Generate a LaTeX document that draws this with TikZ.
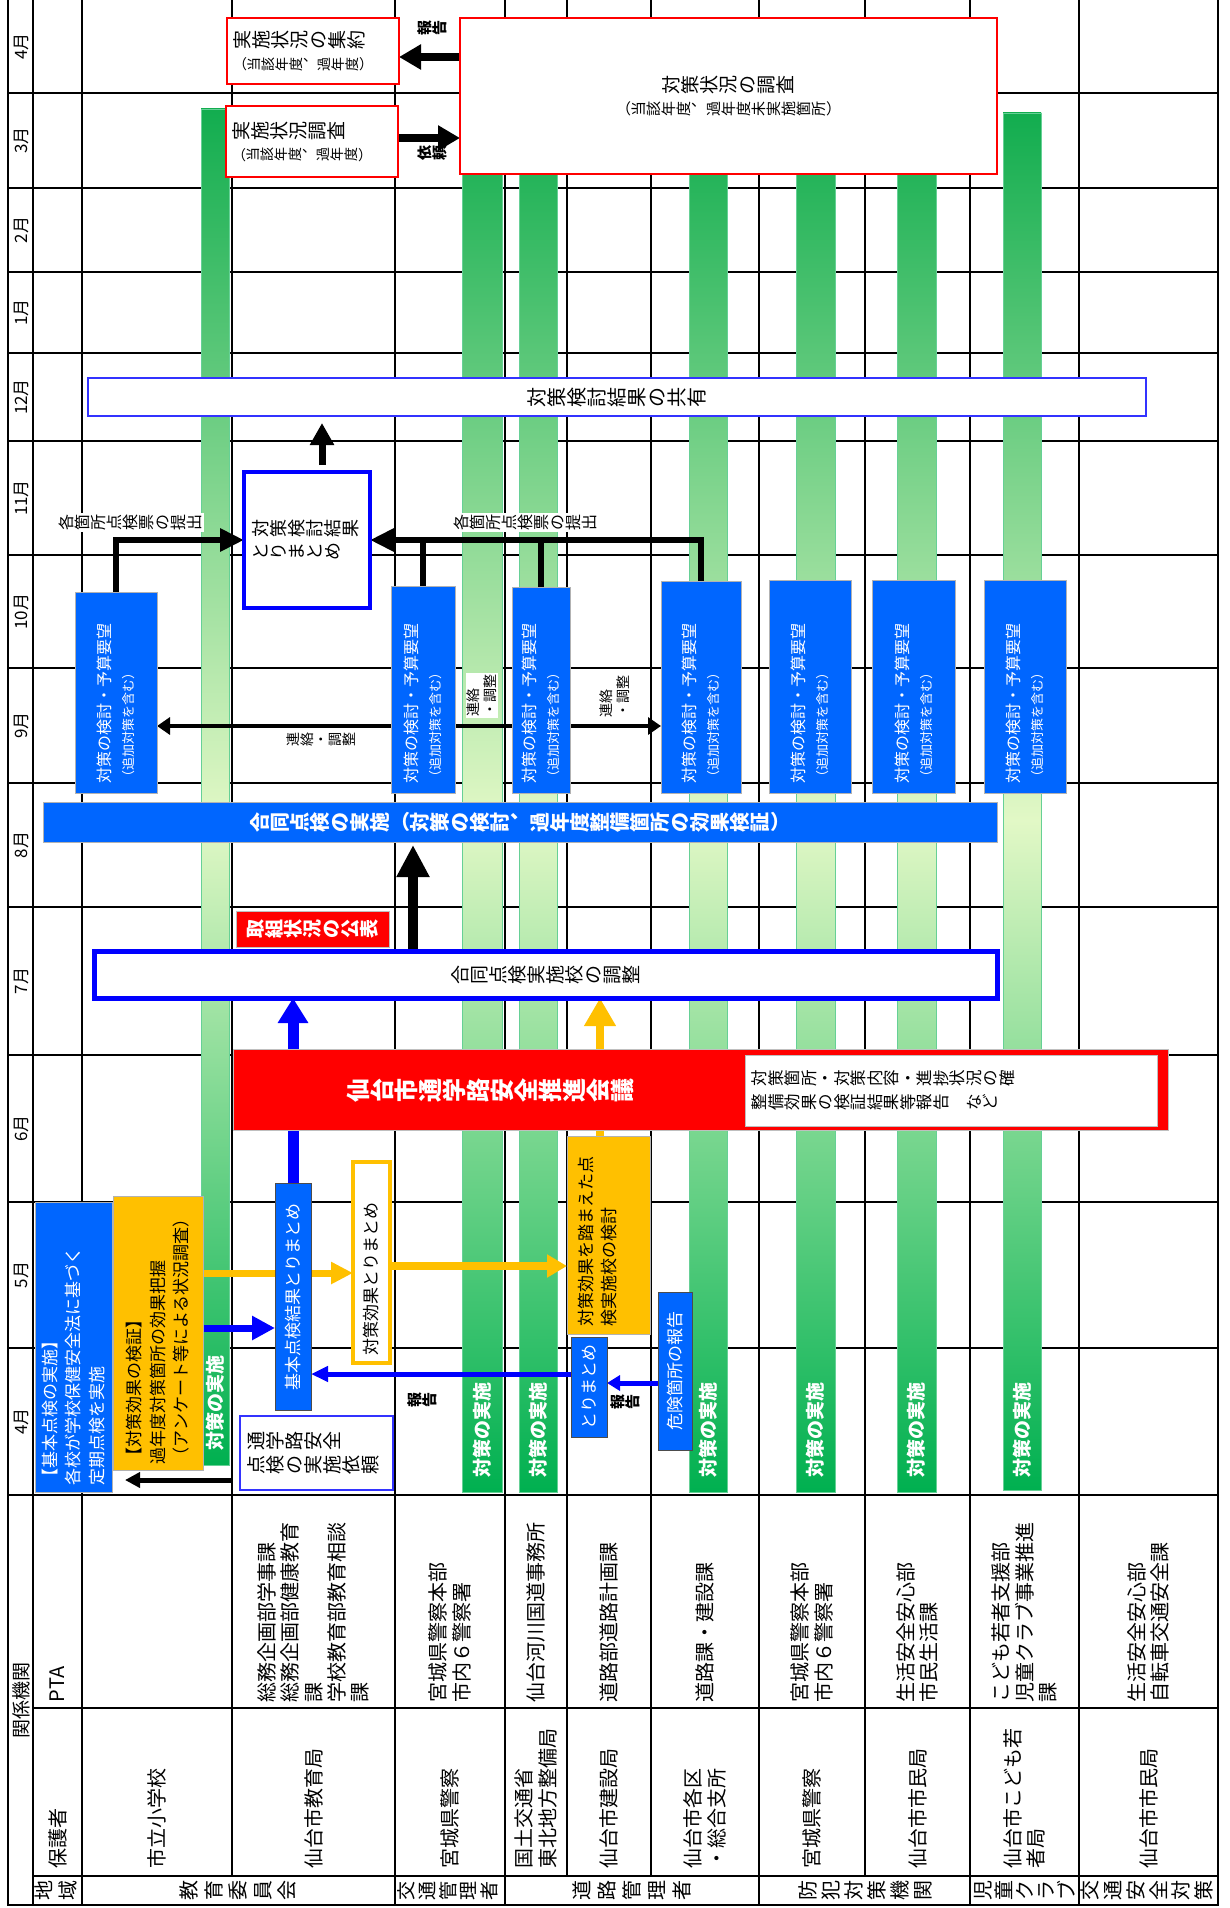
\documentclass[tikz,border=0pt]{standalone}
\usepackage{fontspec}
\setmainfont{Noto Sans CJK JP}
\usetikzlibrary{arrows.meta}
\definecolor{cblue}{HTML}{0066FF}
\definecolor{pblue}{HTML}{0000FF}
\definecolor{lblue}{HTML}{3333FF}
\definecolor{corange}{HTML}{FFC000}
\definecolor{cred}{HTML}{FF0000}
\definecolor{gdark}{HTML}{12AD4F}
\definecolor{gbot}{HTML}{00B050}
\definecolor{glight}{HTML}{E2F8C6}
\makeatletter
\newlength\tategap
\def\tate@end{\tate@end}
\newcommand\tate[1]{\tate@loop#1\tate@end\hspace*{-\tategap}}
\def\tate@loop#1{\ifx#1\tate@end\else\tate@char{#1}\expandafter\tate@loop\fi}
\def\tate@em#1{\raisebox{0pt}[0.88em][0.12em]{\makebox[1em][c]{#1}}}
\def\tate@char#1{\ifx#1（\tate@em{#1}\else\ifx#1）\tate@em{#1}\else\ifx#1、\tate@em{\raisebox{0.55em}{#1}}\else\rotatebox[origin=c]{90}{\tate@em{#1}}\fi\fi\fi\hspace*{\tategap}}
\makeatother
\pgfdeclarelayer{bg}\pgfdeclarelayer{arr}\pgfsetlayers{bg,arr,main}
\newcommand\RB[7][]{\node[rb,#1,minimum width={#6-#4},minimum height={#5-#3}] (#2) at ({(#3+#5)/2},{(#4+#6)/2}) {#7};}
\newcommand\UB[7][]{\node[ub,#1,minimum width={#5-#3},minimum height={#6-#4}] (#2) at ({(#3+#5)/2},{(#4+#6)/2}) {#7};}
\newcommand\gbar[6]{%
 \shade[top color=gdark, bottom color=glight] (#2,#3) rectangle (#4,821);
 \shade[top color=glight, bottom color=gbot] (#2,820) rectangle (#4,#5);
 \draw[barline] (#2,#3) rectangle (#4,#5);
 \node[bartext] (#1) at ({(#2+#4)/2},#6) {対策の実施};}
\tikzset{
 rb/.style={rotate=90, inner sep=0pt, outer sep=0pt},
 ub/.style={inner sep=0pt, outer sep=0pt},
 tbox/.style={fill=white},
 bluebox/.style={fill=cblue, draw=gray!60, line width=0.8pt, text=white},
 orangebox/.style={fill=corange, draw=gray!60, line width=0.8pt},
 kbox/.style={bluebox, align=left, font=\fontsize{16}{23}\selectfont},
 org/.style={align=left, font=\fontsize{20}{23.4}\selectfont},
 month/.style={rotate=90, inner sep=0pt, font=\fontsize{17}{17}\selectfont},
 cat/.style={inner sep=0pt, font=\fontsize{20}{20}\selectfont},
 grid/.style={line width=1.8pt, line cap=rect},
 barline/.style={draw=gbot!60, line width=0.8pt},
 bartext/.style={rotate=90, inner sep=0pt, text=white, font=\fontsize{19}{19}\selectfont\bfseries},
 lab/.style={inner sep=1.5pt, fill=white, font=\fontsize{16}{18}\selectfont},
 arr/.style n args={4}{draw=#1, line width=#2, -{Triangle[length=#3,width=#4]}},
}
\begin{document}
\begin{tikzpicture}[x=1pt, y=-1pt, font=\fontsize{20}{23.5}\selectfont, line join=miter]
\useasboundingbox (0,0) rectangle (1229,1908);
\begin{pgfonlayer}{bg}
\fill[white] (0,0) rectangle (1229,1908);
\foreach \x in {8,33,82,395,505,759,970,1079,1218} \draw[grid] (\x,0) -- (\x,1905);
\foreach \x in {232,567,651,865} \draw[grid] (\x,0) -- (\x,1876);
\foreach \y in {93,188,272,353,441,555,668,783,907,1055,1202,1348,1495,1905} \draw[grid] (8,\y) -- (1218,\y);
\draw[grid] (33,1708) -- (1218,1708);
\draw[grid] (33,1876) -- (1218,1876);
\gbar{ba}{201}{109}{229}{1465}{1403}
\gbar{bb}{462}{112}{502}{1492}{1430}
\gbar{bc}{519}{112}{557}{1492}{1430}
\gbar{bd}{689}{112}{727}{1492}{1430}
\gbar{be}{796}{112}{835}{1492}{1430}
\gbar{bf}{897}{112}{936}{1492}{1430}
\gbar{bgg}{1003}{113}{1041}{1490}{1430}
\end{pgfonlayer}

% header column
\foreach \y/\m [count=\i] in {46.5/4月,140.5/3月,230/2月,312.5/1月,397/12月,498/11月,611.5/10月,725.5/9月,845/8月,981/7月,1128.5/6月,1275/5月,1421.5/4月}
  \node[month] (m\i) at (21,\y) {\m};
\node[month, font=\fontsize{19}{19}\selectfont] (kankei) at (21,1700) {関係機関};

% organisation cells
\RB[org, text width=201pt]{o1}{33}{1495}{82}{1708}{PTA}
\RB[org, text width=201pt]{o2}{232}{1495}{395}{1708}{総務企画部学事課\\総務企画部健康教育\\課\\学校教育部教育相談\\課}
\RB[org, text width=201pt]{o3}{395}{1495}{505}{1708}{宮城県警察本部\\市内６警察署}
\RB[org, text width=201pt]{o4}{505}{1495}{567}{1708}{仙台河川国道事務所}
\RB[org, text width=201pt]{o5}{567}{1495}{651}{1708}{道路部道路計画課}
\RB[org, text width=201pt]{o6}{651}{1495}{759}{1708}{道路課・建設課}
\RB[org, text width=201pt]{o7}{759}{1495}{865}{1708}{宮城県警察本部\\市内６警察署}
\RB[org, text width=201pt]{o8}{865}{1495}{970}{1708}{生活安全安心部\\市民生活課}
\RB[org, text width=201pt]{o9}{970}{1495}{1079}{1708}{こども若者支援部\\児童クラブ事業推進\\課}
\RB[org, text width=201pt]{o10}{1079}{1495}{1218}{1708}{生活安全安心部\\自転車交通安全課}
\RB[org, text width=152pt]{n1}{33}{1708}{82}{1876}{保護者}
\RB[org, text width=152pt]{n2}{82}{1708}{232}{1876}{市立小学校}
\RB[org, text width=152pt]{n3}{232}{1708}{395}{1876}{仙台市教育局}
\RB[org, text width=152pt]{n4}{395}{1708}{505}{1876}{宮城県警察}
\RB[org, text width=152pt]{n5}{505}{1708}{567}{1876}{国土交通省\\東北地方整備局}
\RB[org, text width=152pt]{n6}{567}{1708}{651}{1876}{仙台市建設局}
\RB[org, text width=152pt]{n7}{651}{1708}{759}{1876}{仙台市各区\\・総合支所}
\RB[org, text width=152pt]{n8}{759}{1708}{865}{1876}{宮城県警察}
\RB[org, text width=152pt]{n9}{865}{1708}{970}{1876}{仙台市市民局}
\RB[org, text width=152pt]{n10}{970}{1708}{1079}{1876}{仙台市こども若\\者局}
\RB[org, text width=152pt]{n11}{1079}{1708}{1218}{1876}{仙台市市民局}

% category row
\node[cat] (c1) at (56,1890.5) {\setlength\tategap{4pt}\tate{地域}};
\node[cat] (c2) at (238,1890.5) {\setlength\tategap{4.5pt}\tate{教育委員会}};
\node[cat, font=\fontsize{19}{19}\selectfont] (c3) at (448,1890.5) {\setlength\tategap{1.7pt}\tate{交通管理者}};
\node[cat] (c4) at (632,1890.5) {\setlength\tategap{5pt}\tate{道路管理者}};
\node[cat] (c5) at (865,1890.5) {\setlength\tategap{3pt}\tate{防犯対策機関}};
\node[cat] (c6) at (1025,1890.5) {\setlength\tategap{1pt}\tate{児童クラブ}};
\node[cat] (c7) at (1147,1890.5) {\setlength\tategap{2.8pt}\tate{交通安全対策}};

% top boxes
\UB[tbox, draw=cred, line width=1.2pt, align=left, text width=160pt, font=\fontsize{19}{22}\selectfont]{shuyaku}{227}{18}{399}{84}{\tate{実施状況の集約}\\{\fontsize{14}{22}\selectfont\tate{（当該年度、過年度）}}}
\UB[tbox, draw=cred, line width=1.2pt, align=left, text width=160pt, font=\fontsize{19}{22}\selectfont]{jchousa}{226}{106}{398}{177}{\tate{実施状況調査}\\{\fontsize{14}{22}\selectfont\tate{（当該年度、過年度）}}}
\UB[tbox, draw=cred, line width=1.2pt, align=center, font=\fontsize{19}{22}\selectfont]{chousa}{460}{18}{997}{174}{\tate{対策状況の調査}\\{\fontsize{15}{22}\selectfont\tate{（当該年度、過年度未実施箇所）}}}
\node[lab, fill=none, font=\fontsize{15}{17}\selectfont\bfseries] (l1) at (432,28) {\tate{報告}};
\node[lab, fill=none, font=\fontsize{15}{17}\selectfont\bfseries] (l2) at (432,153) {\tate{依頼}};

\UB[tbox, draw=lblue, line width=1.2pt]{kyouyuu}{88}{378}{1146}{416}{\tate{対策検討結果の共有}}
\UB[tbox, draw=pblue, line width=4pt, align=left, text width=110pt, font=\fontsize{18}{23}\selectfont]{matome}{244}{472}{370}{608}{\tate{対策検討結果}\\\tate{とりまとめ}}

% blue study boxes
\RB[kbox, text width=181pt]{k1}{75}{592}{157}{793}{対策の検討・予算要望\\{\fontsize{13}{23}\selectfont（追加対策を含む）}}
\RB[kbox, text width=187pt]{k2}{391}{586}{455}{793}{対策の検討・予算要望\\{\fontsize{13}{23}\selectfont（追加対策を含む）}}
\RB[kbox, text width=186pt]{k3}{512}{587}{570}{793}{対策の検討・予算要望\\{\fontsize{13}{23}\selectfont（追加対策を含む）}}
\RB[kbox, text width=192pt]{k4}{661}{581}{741}{793}{対策の検討・予算要望\\{\fontsize{13}{23}\selectfont（追加対策を含む）}}
\RB[kbox, text width=193pt]{k5}{769}{580}{851}{793}{対策の検討・予算要望\\{\fontsize{13}{23}\selectfont（追加対策を含む）}}
\RB[kbox, text width=193pt]{k6}{872}{580}{955}{793}{対策の検討・予算要望\\{\fontsize{13}{23}\selectfont（追加対策を含む）}}
\RB[kbox, text width=193pt]{k7}{984}{580}{1066}{793}{対策の検討・予算要望\\{\fontsize{13}{23}\selectfont（追加対策を含む）}}

\node[lab] (l3) at (130,522) {\tate{各箇所点検票の提出}};
\node[lab] (l4) at (525,522) {\tate{各箇所点検票の提出}};
\node[lab, font=\fontsize{14}{16}\selectfont] (l5) at (321,739) {\tate{連絡・調整}};
\node[lab, rotate=90, align=left, font=\fontsize{14}{17}\selectfont] (l6) at (482,695) {連絡\\・調整};
\node[lab, rotate=90, align=left, font=\fontsize{14}{17}\selectfont] (l7) at (615,696) {連絡\\・調整};

% middle
\UB[fill=cblue, draw=gray!60, line width=0.8pt, text=white, font=\fontsize{20}{22}\selectfont\bfseries]{goudou}{43}{802}{997}{842}{\tate{合同点検の実施（対策の検討、過年度整備箇所の効果検証）}}
\UB[fill=cred, draw=gray!50, line width=0.8pt, text=white, font=\fontsize{19}{22}\selectfont\bfseries]{koho}{236}{911}{389}{947}{\tate{取組状況の公表}}
\UB[tbox, draw=pblue, line width=5pt, font=\fontsize{19}{22}\selectfont]{chousei}{94}{951}{997}{998}{\tate{合同点検実施校の調整}}
\UB[fill=cred, draw=gray!50, line width=1pt]{kaigi}{233}{1049}{1168}{1130}{}
\node[font=\fontsize{24}{26}\selectfont\bfseries, text=white, inner sep=0pt] (kaigit) at (490,1090) {\tate{仙台市通学路安全推進会議}};
\UB[tbox, draw=gray!50, line width=1pt, align=left, text width=400pt, font=\fontsize{16.5}{24}\selectfont]{kaiginote}{745}{1055}{1157}{1126}{\tate{対策箇所・対策内容・進捗状況の確}\\\tate{整備効果の検証結果等報告}\hspace{1em}\tate{など}}

% lower boxes
\RB[bluebox, align=left, text width=276pt, font=\fontsize{17}{23.5}\selectfont]{kihon}{35}{1202}{112}{1492}{【基本点検の実施】\\各校が学校保健安全法に基づく\\定期点検を実施}
\RB[orangebox, align=left, text width=262pt, font=\fontsize{17}{23.5}\selectfont]{kensho}{113}{1196}{203}{1470}{【対策効果の検証】\\過年度対策箇所の効果把握\\（アンケート等による状況調査）}
\RB[bluebox, draw=black!70, font=\fontsize{17}{20}\selectfont]{kihonm}{275}{1183}{311}{1410}{基本点検結果とりまとめ}
\RB[tbox, draw=corange, line width=4pt, align=left, text width=185pt, font=\fontsize{17}{20}\selectfont]{koukam}{353}{1162}{390}{1363}{対策効果とりまとめ}
\RB[orangebox, align=left, text width=182pt, font=\fontsize{17}{23}\selectfont]{kentou}{567}{1136}{650}{1334}{対策効果を踏まえた点\\検実施校の検討\\\mbox{}}
\RB[bluebox, draw=black!70, font=\fontsize{17}{20}\selectfont]{torim}{571}{1337}{607}{1437}{とりまとめ}
\RB[bluebox, draw=black!70, font=\fontsize{17}{20}\selectfont]{kiken}{658}{1292}{692}{1450}{危険箇所の報告}
\UB[tbox, draw=lblue, line width=1.5pt, align=left, text width=140pt, font=\fontsize{19}{24}\selectfont]{irai}{240}{1416}{393}{1490}{\tate{通学路安全}\\\tate{点検の実施依頼}}
\node[lab, fill=none, font=\fontsize{15}{17}\selectfont\bfseries] (l8) at (422,1400) {\tate{報告}};
\node[lab, fill=none, font=\fontsize{15}{17}\selectfont\bfseries] (l9) at (625,1402) {\tate{報告}};

% connectors
\begin{pgfonlayer}{arr}
\draw[arr={black}{8pt}{22pt}{24pt}] (chousa.west |- 0,57) -- (shuyaku.east |- 0,57);
\draw[arr={black}{8pt}{22pt}{24pt}] (jchousa.east |- 0,138) -- (chousa.west |- 0,138);
\draw[arr={black}{7pt}{22pt}{23pt}, shorten <=7pt, shorten >=7pt] (322,0 |- matome.north) -- (322,0 |- kyouyuu.south);
\draw[arr={black}{6.5pt}{24pt}{22pt}] (k1.east) |- (matome.west);
\draw[arr={black}{6.5pt}{24pt}{22pt}] (k4.east) |- (matome.east);
\draw[black, line width=6.5pt] (k2.east) -- (k2.east |- matome.east);
\draw[black, line width=6.5pt] (k3.east) -- (k3.east |- matome.east);
\draw[arr={black}{4.5pt}{13pt}{17pt}] (k2.north |- 0,726) -- (k1.south |- 0,726);
\draw[black, line width=4.5pt] (k2.south |- 0,726) -- (k3.north |- 0,726);
\draw[arr={black}{4.5pt}{13pt}{17pt}] (k3.south |- 0,726) -- (k4.north |- 0,726);
\draw[arr={black}{10pt}{32pt}{31pt}, shorten >=3pt] (413,0 |- chousei.north) -- (413,0 |- goudou.south);
\draw[arr={pblue}{11pt}{25pt}{29pt}] (kihonm.east) -- (kihonm.east |- chousei.south);
\draw[arr={corange}{8pt}{28pt}{30pt}] (600,0 |- kentou.east) -- (600,0 |- chousei.south);
\draw[arr={pblue}{7pt}{23pt}{23pt}] (kihon.south |- 0,1328) -- (kihonm.north |- 0,1328);
\draw[arr={corange}{7pt}{22pt}{21pt}] (kensho.south |- 0,1273) -- (koukam.north |- 0,1273);
\draw[arr={corange}{8pt}{20pt}{22pt}] (koukam.south |- 0,1266) -- (kentou.north |- 0,1266);
\draw[arr={pblue}{5pt}{17pt}{15pt}] (torim.north |- 0,1374) -- (kihonm.south |- 0,1374);
\draw[arr={pblue}{5pt}{13pt}{15pt}] (kiken.north |- 0,1383) -- (torim.south |- 0,1383);
\draw[arr={black}{5pt}{15pt}{15pt}, shorten <=8pt, shorten >=13pt] (irai.west |- 0,1480) -- (kihon.south |- 0,1480);
\end{pgfonlayer}
\end{tikzpicture}
\end{document}
